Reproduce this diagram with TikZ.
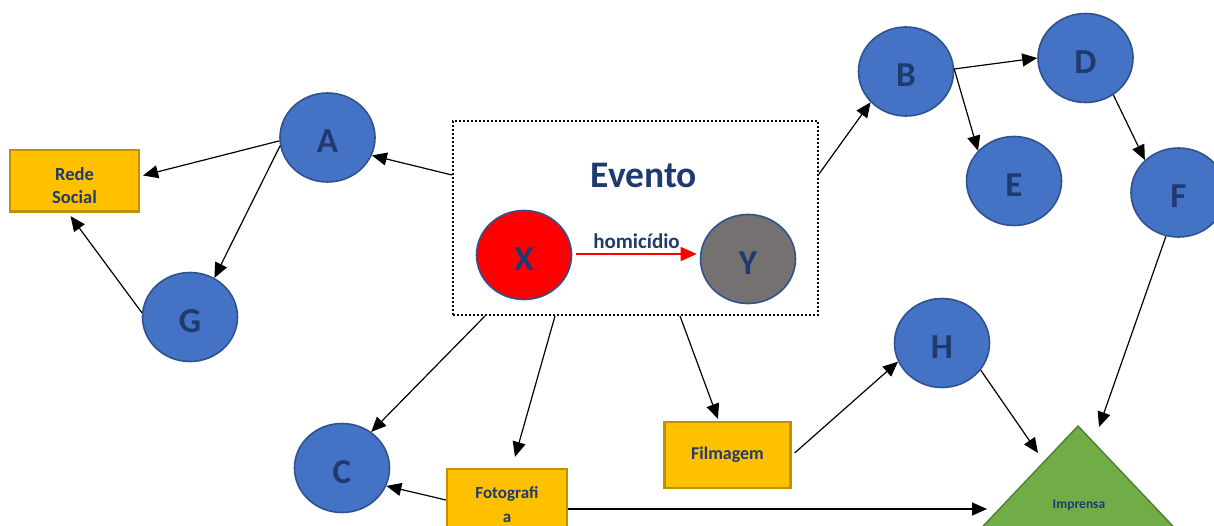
\documentclass[tikz,border=0pt]{standalone}
\usepackage{fontspec}
\setmainfont{Carlito}
\usetikzlibrary{shapes.geometric,arrows.meta}
\definecolor{txt}{HTML}{1F3A6E}
\definecolor{cblue}{HTML}{4472C4}
\definecolor{cborder}{HTML}{2F528F}
\definecolor{yfill}{HTML}{FFC000}
\definecolor{ybord}{HTML}{BF9000}
\definecolor{gfill}{HTML}{70AD47}
\definecolor{gbord}{HTML}{507E32}
\definecolor{ygray}{HTML}{767171}
\begin{document}
\begin{tikzpicture}[x=1pt,y=-1pt,
  circ/.style={ellipse,draw=cborder,fill=cblue,line width=1.6pt,minimum width=95pt,minimum height=89pt,inner sep=0pt,font=\bfseries\fontsize{35}{35}\selectfont,text=txt,text height=31pt},
  ybox/.style={rectangle,draw=ybord,fill=yfill,line width=2.2pt,inner sep=0pt,align=center,text=txt},
  conn/.style={line width=1.2pt,-{Triangle[length=15pt,width=13pt]}},
  lbl/.style={text=txt,inner sep=0pt,align=center}
]
\useasboundingbox (0,0) rectangle (1214,526);
\clip (0,0) rectangle (1214,526);

% Evento box
\node[draw=black,line width=2pt,dash pattern=on 2pt off 2pt,minimum width=365pt,minimum height=194pt,inner sep=0pt] (evento) at (635.5,218) {};
\node[lbl,font=\bfseries\fontsize{37.5}{37.5}\selectfont] (evtitle) at (644,175) {Evento};
\node[circ,fill=red] (X) at (524,255) {X};
\node[circ,fill=ygray] (Y) at (748,259) {Y};
\draw[red,line width=1.2pt,-{Triangle[length=16pt,width=14pt]}] ([xshift=4pt,yshift=1pt]X.east) -- ([xshift=-3pt,yshift=1pt]X.east -| Y.west) node[midway,above=5pt,lbl,font=\bfseries\fontsize{21}{21}\selectfont] (hom) {homicídio};

% circles
\node[circ] (A) at (327.5,137.5) {A};
\node[circ] (G) at (190,317) {G};
\node[circ] (C) at (342,468) {C};
\node[circ] (B) at (906,71.5) {B};
\node[circ] (D) at (1085.5,58) {D};
\node[circ] (E) at (1014,181) {E};
\node[circ] (F) at (1178.5,192.5) {F};
\node[circ] (H) at (942,343) {H};

% boxes
\node[ybox,minimum width=129pt,minimum height=61pt] (rede) at (74.5,180.5) {};
\node[lbl,font=\bfseries\fontsize{18.5}{23}\selectfont] (redetxt) at (74.5,186) {Rede\\Social};
\draw[ybord,line width=2.2pt] (rede.south west) -- (rede.south east);
\node[ybox,minimum width=126pt,minimum height=66pt,font=\bfseries\fontsize{18}{22}\selectfont] (film) at (727.5,455) {Filmagem};
\node[ybox,minimum width=120pt,minimum height=66pt] (foto) at (507,502) {};
\node[lbl,font=\bfseries\fontsize{17}{24}\selectfont] (fototxt) at (507,505) {Fotografi\\a};

% Imprensa triangle
\filldraw[fill=gfill,draw=gbord,line width=1.4pt] (1078,426) -- (1205,560) -- (951,560) -- cycle;
\node[lbl,font=\bfseries\fontsize{13.5}{13.5}\selectfont] (imp) at (1079,505) {Imprensa};
\coordinate (impF) at (1099,427);
\coordinate (impH) at (1038,453);
\coordinate (impFoto) at (987,509);

% connectors
\draw[conn] ([yshift=43pt]evento.west) -- (A.-22);
\draw[conn] (A.184) -- ([xshift=3pt,yshift=5pt]rede.east);
\draw[conn] (A.190) -- (G.58);
\draw[conn] (G.175) -- ([xshift=-4pt,yshift=-4pt]rede.south);
\draw[conn] ([yshift=44pt]evento.east) -- (B.221);
\draw[conn] (B.3) -- (D.180);
\draw[conn] (B.3) -- (E.140);
\draw[conn] (D.-53) -- (F.136);
\draw[conn] (F.254) -- (impF);
\draw[conn] ([xshift=-150.5pt]evento.south) -- (C.51);
\draw[conn] ([xshift=-80.5pt]evento.south) -- ([xshift=8pt,yshift=11pt]foto.north);
\draw[conn] ([xshift=44.5pt]evento.south) -- ([xshift=-9.5pt,yshift=2pt]film.north);
\draw[conn] ([xshift=3pt,yshift=2pt]film.east) -- (H.203);
\draw[conn] (H.-35) -- (impH);
\draw[conn] ([yshift=2pt]foto.west) -- (C.-22);
\draw[conn] ([yshift=-7pt]foto.east) -- (impFoto);
\end{tikzpicture}
\end{document}
